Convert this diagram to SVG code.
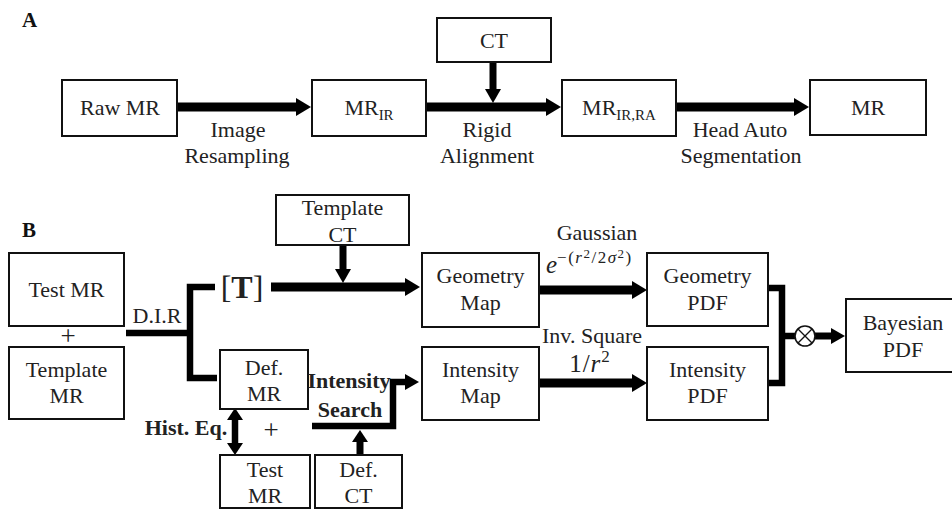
<svg xmlns="http://www.w3.org/2000/svg" width="952" height="510" viewBox="0 0 952 510">
<defs>
<style>
.bx{fill:#fff;stroke:#111;stroke-width:2}
.t{font-family:"Liberation Serif","Times New Roman",serif;font-size:22px;fill:#222;text-anchor:middle}
.b{font-weight:bold}
.p{font-size:27px}
.lbl{font-family:"Liberation Serif","Times New Roman",serif;font-size:21px;font-weight:bold;fill:#111}
.sh{fill:none;stroke:#000;stroke-width:9}
.sm{fill:none;stroke:#000;stroke-width:7}
.br{fill:none;stroke:#000;stroke-width:6.5}
.m{font-family:"Liberation Serif","Times New Roman",serif;fill:#222}
</style>
<marker id="big" markerUnits="userSpaceOnUse" markerWidth="15" markerHeight="18" refX="0" refY="9" orient="auto">
<path d="M0,0 L15,9 L0,18 Z" fill="#000"/>
</marker>
<marker id="mid" markerUnits="userSpaceOnUse" markerWidth="14" markerHeight="16" refX="0" refY="8" orient="auto">
<path d="M0,0 L14,8 L0,16 Z" fill="#000"/>
</marker>
<marker id="sml" markerUnits="userSpaceOnUse" markerWidth="12" markerHeight="16" refX="0" refY="8" orient="auto-start-reverse">
<path d="M0,0 L12,8 L0,16 Z" fill="#000"/>
</marker>
</defs>
<rect width="952" height="510" fill="#fff"/>

<text class="lbl" x="22" y="27">A</text>
<text class="lbl" x="22" y="237">B</text>

<g id="connectors">
<!-- Part A -->
<line class="sh" x1="178" y1="107" x2="296" y2="107" marker-end="url(#big)"/>
<line class="sh" x1="426" y1="107" x2="546" y2="107" marker-end="url(#big)"/>
<line class="sh" x1="676" y1="107" x2="794" y2="107" marker-end="url(#big)"/>
<line class="sm" x1="493" y1="62" x2="493" y2="89" marker-end="url(#mid)"/>
<!-- Part B -->
<path class="br" d="M126,333 H190 M215,287 H190 V378 H217"/>
<line class="sh" x1="271" y1="287" x2="405" y2="287" marker-end="url(#big)"/>
<line class="sm" x1="343" y1="245" x2="343" y2="269" marker-end="url(#mid)"/>
<line class="sh" x1="539" y1="290" x2="632" y2="290" marker-end="url(#big)"/>
<line class="sh" x1="539" y1="383" x2="632" y2="383" marker-end="url(#big)"/>
<path class="br" d="M768,288 H782 V383 H768 M782,336 H795"/>
<line class="sm" x1="815" y1="336" x2="831" y2="336" marker-end="url(#mid)"/>
<path class="br" d="M312,426 H393 V382 H405" marker-end="url(#mid)"/>
<line class="sm" x1="360" y1="455" x2="360" y2="442" marker-end="url(#sml)"/>
<line class="br" x1="235" y1="420" x2="235" y2="443" marker-start="url(#sml)" marker-end="url(#sml)"/>
</g>

<g id="otimes">
<circle cx="805" cy="336" r="10" fill="#fff" stroke="#111" stroke-width="1.6"/>
<path d="M798,329 L812,343 M812,329 L798,343" stroke="#111" stroke-width="1.4"/>
</g>

<!-- Part A nodes -->
<g id="rawmr"><rect class="bx" x="62" y="80" width="115" height="56"/><text class="t" x="120" y="115">Raw MR</text></g>
<g id="mrir"><rect class="bx" x="312" y="80" width="114" height="56"/><text class="t" x="369" y="115">MR<tspan font-size="15" dy="5">IR</tspan></text></g>
<g id="ct"><rect class="bx" x="437" y="18" width="114" height="44"/><text class="t" x="494" y="48">CT</text></g>
<g id="mrirra"><rect class="bx" x="562" y="80" width="114" height="56"/><text class="t" x="619" y="115">MR<tspan font-size="15" dy="5">IR,RA</tspan></text></g>
<g id="mr"><rect class="bx" x="810" y="80" width="116" height="55"/><text class="t" x="868" y="115">MR</text></g>

<g id="labelsA">
<text class="t" x="238" y="137">Image</text>
<text class="t" x="237" y="163">Resampling</text>
<text class="t" x="487" y="137">Rigid</text>
<text class="t" x="487" y="163">Alignment</text>
<text class="t" x="740" y="137">Head Auto</text>
<text class="t" x="741" y="163">Segmentation</text>
</g>

<!-- Part B nodes -->
<g id="testmr"><rect class="bx" x="9" y="253" width="115" height="73"/><text class="t" x="66.5" y="297">Test MR</text></g>
<text class="t p" x="68" y="345">+</text>
<g id="templatemr"><rect class="bx" x="9" y="347" width="115" height="72"/><text class="t" x="66.5" y="377">Template</text><text class="t" x="66.5" y="403">MR</text></g>
<g id="templatect"><rect class="bx" x="276" y="195" width="133" height="50"/><text class="t" x="342.5" y="215">Template</text><text class="t" x="342.5" y="242">CT</text></g>
<g id="T"><text class="t" x="242" y="298" style="font-size:32px">[<tspan font-weight="bold">T</tspan>]</text></g>
<g id="geomap"><rect class="bx" x="422" y="253" width="117" height="74"/><text class="t" x="480.5" y="283">Geometry</text><text class="t" x="480.5" y="310">Map</text></g>
<g id="intmap"><rect class="bx" x="422" y="347" width="117" height="73"/><text class="t" x="480.5" y="377">Intensity</text><text class="t" x="480.5" y="403">Map</text></g>
<g id="geopdf"><rect class="bx" x="647" y="253" width="121" height="73"/><text class="t" x="707.5" y="283">Geometry</text><text class="t" x="707.5" y="310">PDF</text></g>
<g id="intpdf"><rect class="bx" x="647" y="347" width="121" height="73"/><text class="t" x="707.5" y="377">Intensity</text><text class="t" x="707.5" y="403">PDF</text></g>
<g id="bayes"><rect class="bx" x="846" y="299" width="120" height="73"/><text class="t" x="903" y="330">Bayesian</text><text class="t" x="903" y="357">PDF</text></g>
<g id="defmr"><rect class="bx" x="220" y="350" width="88" height="59"/><text class="t" x="264" y="375">Def.</text><text class="t" x="264" y="401">MR</text></g>
<g id="testmr2"><rect class="bx" x="220" y="455" width="90" height="53"/><text class="t" x="265" y="477">Test</text><text class="t" x="265" y="503">MR</text></g>
<g id="defct"><rect class="bx" x="315" y="455" width="87" height="53"/><text class="t" x="358.5" y="477">Def.</text><text class="t" x="358.5" y="503">CT</text></g>

<g id="labelsB">
<text class="t" x="157" y="323">D.I.R</text>
<text class="t b" x="349" y="388">Intensity</text>
<text class="t b" x="350" y="417">Search</text>
<text class="t b" x="186" y="435">Hist. Eq.</text>
<text class="t p" x="271" y="439">+</text>
<text class="t" x="597" y="240">Gaussian</text>
<text class="m" x="546" y="273" font-size="25" font-style="italic">e<tspan font-size="17" font-style="normal" dy="-10" letter-spacing="1.5">−(</tspan><tspan font-size="17" letter-spacing="1.5">r</tspan><tspan font-size="13" font-style="normal" dy="-5" letter-spacing="1.5">2</tspan><tspan font-size="17" font-style="normal" dy="5" letter-spacing="1.5">/2</tspan><tspan font-size="17" letter-spacing="1.5">σ</tspan><tspan font-size="13" font-style="normal" dy="-5" letter-spacing="1.5">2</tspan><tspan font-size="17" font-style="normal" dy="5">)</tspan></text>
<text class="t" x="592" y="343">Inv. Square</text>
<text class="m" x="590" y="372" font-size="25" text-anchor="middle" letter-spacing="1">1/<tspan font-style="italic">r</tspan><tspan font-size="17" dy="-10">2</tspan></text>
</g>
</svg>
